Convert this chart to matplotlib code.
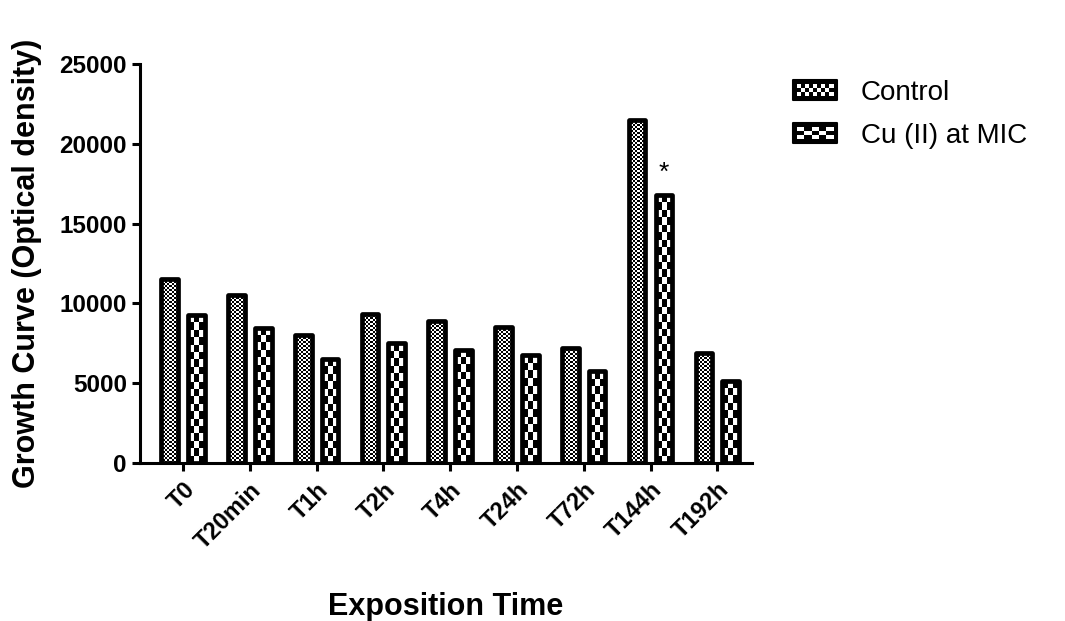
import numpy as np
import matplotlib
matplotlib.use("Agg")
import matplotlib.pyplot as plt
from matplotlib.patches import Rectangle
from matplotlib.legend_handler import HandlerBase

plt.rcParams['font.family'] = ['Liberation Sans', 'DejaVu Sans']

# --- data ---
times = ['T0', 'T20min', 'T1h', 'T2h', 'T4h', 'T24h', 'T72h', 'T144h', 'T192h']
control = [11500, 10500, 8000, 9350, 8880, 8520, 7220, 21470, 6890]
cu_mic = [9250, 8480, 6500, 7500, 7100, 6750, 5760, 16770, 5140]
series_names = ['Control', 'Cu (II) at MIC']
signif_idx = 7  # T144h, Cu bar marked *

W, H = 1065, 621
fig = plt.figure(figsize=(W / 100, H / 100), dpi=100)
ax = fig.add_axes([140 / W, 1 - 463 / H, (752 - 140) / W, (463 - 64) / H])

x = np.arange(len(times))
XLIM = (-0.645, len(times) - 1 + 0.52)
YLIM = (0, 25000)
ax.set_xlim(*XLIM)
ax.set_ylim(*YLIM)

edge_lw = 3.4


def checker(nrows, ncols):
    r, c = np.indices((nrows, ncols))
    return (r + c) % 2


def fill_checker(bars, cell_w, cell_h):
    # paint a checkerboard inside every bar, clipped to the bar outline
    for b in bars:
        x0, y0 = b.get_x(), b.get_y()
        x1, y1 = x0 + b.get_width(), y0 + b.get_height()
        p0 = ax.transData.transform((x0, y0))
        p1 = ax.transData.transform((x1, y1))
        ncols = max(1, int(round((p1[0] - p0[0]) / cell_w)))
        nrows = max(1, int(round((p1[1] - p0[1]) / cell_h)))
        im = ax.imshow(checker(nrows, ncols), cmap='gray', vmin=0, vmax=1,
                       extent=[x0, x1, y0, y1], origin='lower',
                       interpolation='nearest', aspect='auto', zorder=2)
        im.set_clip_path(b)


bw = 0.25
b1 = ax.bar(x - 0.2, control, bw, facecolor='none', edgecolor='black',
            linewidth=edge_lw, joinstyle='round', zorder=3)
b2 = ax.bar(x + 0.2, cu_mic, bw, facecolor='none', edgecolor='black',
            linewidth=edge_lw, joinstyle='round', zorder=3)
ax.set_xlim(*XLIM)
ax.set_ylim(*YLIM)
fill_checker(b1, 2.0, 2.0)
fill_checker(b2, 6.0, 7.5)
ax.set_xlim(*XLIM)
ax.set_ylim(*YLIM)

ax.text(x[signif_idx] + 0.2, cu_mic[signif_idx] + 650, '*', ha='center',
        va='bottom', fontsize=19)

# --- axes styling ---
for s in ['top', 'right']:
    ax.spines[s].set_visible(False)
for s in ['left', 'bottom']:
    ax.spines[s].set_linewidth(2.2)
ax.tick_params(axis='both', width=2.2, length=6, direction='out')
ax.set_yticks(np.arange(0, 25001, 5000))
ax.set_yticklabels([str(v) for v in range(0, 25001, 5000)],
                   fontsize=17.5, fontweight='bold')
ax.set_xticks(x)
ax.set_xticklabels(times, fontsize=17, fontweight='bold', rotation=45,
                   ha='right', rotation_mode='anchor')
for lab in ax.get_xticklabels():
    lab.set_y(-0.005)

ax.set_xlabel('Exposition Time', fontsize=22, fontweight='bold', labelpad=28)
fig.text(27 / W, 1 - 263 / H, 'Growth Curve (Optical density)', rotation=90,
         ha='center', va='center', fontsize=22, fontweight='bold')


# --- legend with checker swatches ---
class CheckerHandler(HandlerBase):
    def __init__(self, nx, ny):
        super().__init__()
        self.nx, self.ny = nx, ny

    def create_artists(self, legend, orig_handle, xdescent, ydescent,
                       width, height, fontsize, trans):
        x0, y0 = -xdescent, -ydescent
        arts = [Rectangle((x0, y0), width, height, facecolor='black',
                          edgecolor='black', lw=1.5, joinstyle='round',
                          transform=trans)]
        pad = 2.8
        cw = (width - 2 * pad) / self.nx
        ch = (height - 2 * pad) / self.ny
        for i in range(self.nx):
            for j in range(self.ny):
                if (i + j) % 2 == 0:
                    arts.append(Rectangle((x0 + pad + i * cw, y0 + pad + j * ch),
                                          cw, ch, facecolor='white', lw=0,
                                          transform=trans))
        return arts


h1 = Rectangle((0, 0), 1, 1)
h2 = Rectangle((0, 0), 1, 1)
fig.legend([h1, h2], series_names, loc='upper left',
           bbox_to_anchor=(793 / W, 1 - 80 / H), frameon=False,
           fontsize=20, handlelength=1.6, handleheight=0.72,
           handletextpad=0.85, labelspacing=0.6, borderpad=0,
           borderaxespad=0,
           handler_map={h1: CheckerHandler(9, 3), h2: CheckerHandler(5, 3)})

fig.savefig('out.png', dpi=100)
